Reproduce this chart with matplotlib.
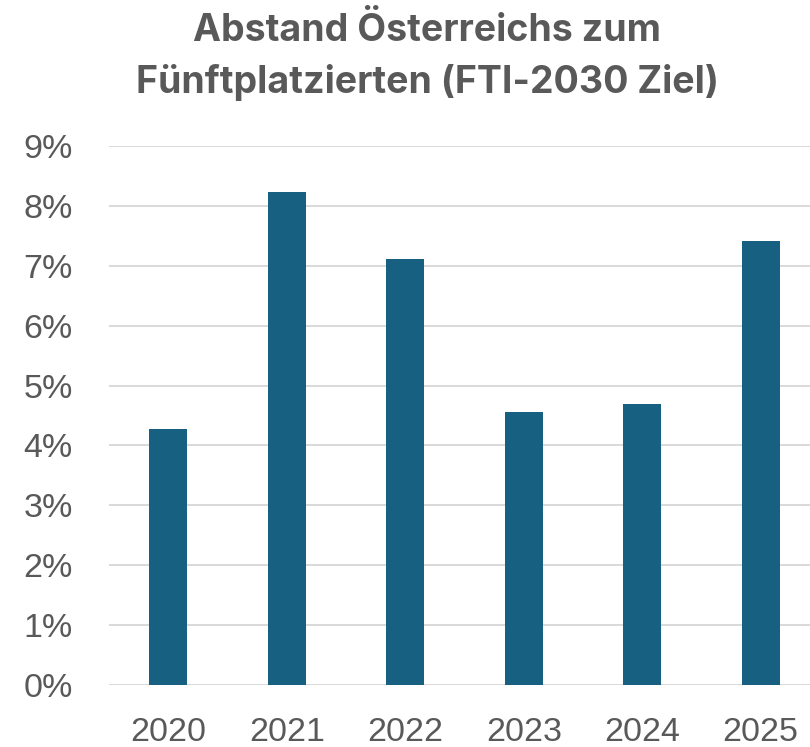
import matplotlib
matplotlib.use("Agg")
import matplotlib.pyplot as plt
from matplotlib.ticker import FuncFormatter, MultipleLocator

years = ["2020", "2021", "2022", "2023", "2024", "2025"]
values = [4.27, 8.23, 7.11, 4.56, 4.69, 7.42]
title_lines = ["Abstand Österreichs zum", "Fünftplatzierten (FTI-2030 Ziel)"]

W, H = 810, 747
fig = plt.figure(figsize=(W / 100, H / 100), dpi=100)
# axes: left 109px, right ~820px, top 146px, bottom 685px
ax = fig.add_axes([109 / W, 1 - 685 / H, (820 - 109) / W, (685 - 146) / H])

gray = "#595959"
ax.bar(range(len(years)), values, width=0.32, color="#176082", zorder=3)
ax.set_xlim(-0.5, 5.5)
ax.set_ylim(0, 9)
ax.yaxis.set_major_locator(MultipleLocator(1))
ax.yaxis.set_major_formatter(FuncFormatter(lambda v, p: f"{v:.0f}%"))
ax.set_xticks(range(len(years)))
ax.set_xticklabels(years)
ax.grid(axis="y", color="#d9d9d9", linewidth=1.4, zorder=0)
for s in ax.spines.values():
    s.set_visible(False)
ax.tick_params(axis="both", length=0, labelsize=24.5, labelcolor=gray)
ax.tick_params(axis="y", pad=26)
ax.tick_params(axis="x", pad=23)
for lab in ax.get_xticklabels() + ax.get_yticklabels():
    lab.set_fontfamily("Liberation Sans")

fig.text(427 / W, 1 - 41 / H, title_lines[0], ha="center", va="baseline",
         fontsize=27, fontweight="bold", color=gray, family="Inter")
fig.text(427 / W, 1 - 93 / H, title_lines[1], ha="center", va="baseline",
         fontsize=27, fontweight="bold", color=gray, family="Inter")

fig.savefig("out.png", dpi=100, facecolor="white")
